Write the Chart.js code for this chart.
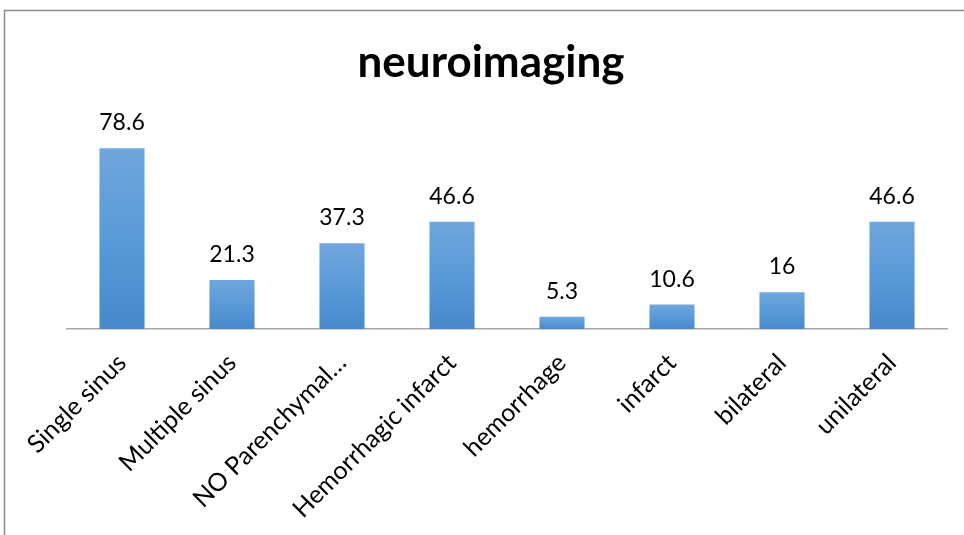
<!DOCTYPE html>
<html>
<head>
<meta charset="utf-8">
<script src="https://cdn.jsdelivr.net/npm/chart.js@4/dist/chart.umd.min.js"></script>
<style>
  html, body { margin: 0; padding: 0; background: #fff; }
  #wrap { width: 964px; height: 535px; position: relative; }
</style>
</head>
<body>
<div id="wrap"><canvas id="c" width="964" height="535"></canvas></div>
<script>
const chartTitle = 'neuroimaging';
const categories = ['Single sinus', 'Multiple sinus', 'NO Parenchymal\u2026', 'Hemorrhagic infarct',
                    'hemorrhage', 'infarct', 'bilateral', 'unilateral'];
const values = [78.6, 21.3, 37.3, 46.6, 5.3, 10.6, 16, 46.6];
const valueLabels = ['78.6', '21.3', '37.3', '46.6', '5.3', '10.6', '16', '46.6'];

const FONT = 'Lato, "Open Sans", sans-serif';

// Vertical gradient per bar: lighter at the top, deeper blue at the base
function barFill(ctx) {
  const chart = ctx.chart;
  if (!chart.chartArea) return '#5b9bd5';
  const y = chart.scales.y;
  const top = y.getPixelForValue(values[ctx.dataIndex]);
  const base = y.getPixelForValue(0);
  const g = chart.ctx.createLinearGradient(0, top, 0, base);
  g.addColorStop(0, '#70a6dc');
  g.addColorStop(0.5, '#5a9ad8');
  g.addColorStop(1, '#4888cb');
  return g;
}

// Frame, title and value labels
const decor = {
  id: 'decor',
  beforeDraw(chart) {
    const c = chart.ctx;
    c.save();
    c.fillStyle = '#ffffff';
    c.fillRect(0, 0, chart.width, chart.height);
    c.strokeStyle = '#8c8c8c';
    c.lineWidth = 1.5;
    c.beginPath();
    c.moveTo(4.5, chart.height);
    c.lineTo(4.5, 10.5);
    c.lineTo(chart.width, 10.5);
    c.stroke();
    c.restore();
  },
  afterDraw(chart) {
    const c = chart.ctx;
    c.save();
    c.fillStyle = '#000';
    c.textAlign = 'center';
    c.textBaseline = 'alphabetic';
    c.font = 'bold 44px ' + FONT;
    c.fillText(chartTitle, 491, 77);
    c.font = '23px ' + FONT;
    const meta = chart.getDatasetMeta(0);
    meta.data.forEach((bar, i) => {
      c.fillText(valueLabels[i], bar.x, bar.y - 18);
    });
    c.restore();
  }
};

new Chart(document.getElementById('c'), {
  type: 'bar',
  data: {
    labels: categories,
    datasets: [{
      data: values,
      backgroundColor: barFill,
      borderWidth: 0,
      categoryPercentage: 1,
      barPercentage: 0.41
    }]
  },
  options: {
    responsive: false,
    animation: false,
    events: [],
    layout: { padding: { left: 67, right: 17, top: 122, bottom: 0 } },
    plugins: { legend: { display: false }, title: { display: false }, tooltip: { enabled: false } },
    scales: {
      y: { display: false, min: 0, max: 90 },
      x: {
        grid: { display: false, drawTicks: false },
        border: { display: true, color: '#a6a6a6', width: 1.5 },
        ticks: {
          color: '#000',
          font: { family: FONT, size: 25 },
          minRotation: 45,
          maxRotation: 45,
          padding: 19,
          autoSkip: false
        },
        afterFit(scale) { scale.height = 206; }
      }
    }
  },
  plugins: [decor]
});
</script>
</body>
</html>
